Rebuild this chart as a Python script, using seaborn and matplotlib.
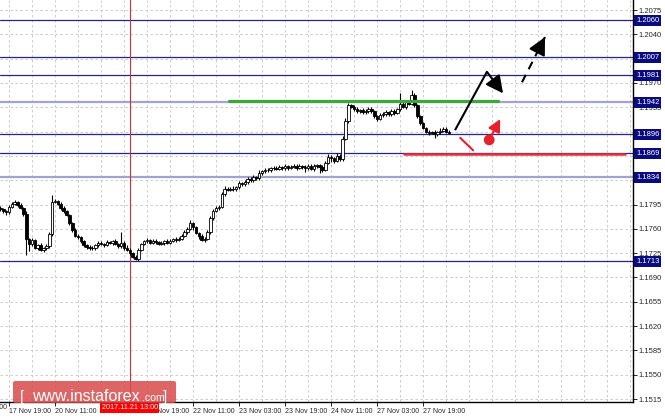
import matplotlib
matplotlib.use("Agg")
import matplotlib.pyplot as plt
import seaborn as sns
from matplotlib.patches import FancyBboxPatch

# prices are stored as pips above this base
BASE = 1.1700
first_open_pips = 90
close_pips = [88, 85, 84, 92, 96, 98, 95, 90, 82, 45,
              38, 44, 33, 36, 30, 32, 35, 52, 99, 100,
              96, 90, 85, 80, 68, 58, 50, 48, 42, 36,
              34, 32, 33, 36, 40, 38, 37, 41, 40, 42,
              38, 35, 40, 33, 30, 25, 20, 17, 30, 38,
              42, 44, 40, 43, 41, 38, 40, 42, 40, 43,
              45, 44, 46, 50, 55, 60, 68, 62, 54, 50,
              44, 46, 55, 75, 86, 90, 92, 110, 118, 116,
              118, 117, 120, 126, 124, 128, 132, 130, 134, 133,
              140, 143, 145, 144, 147, 148, 146, 149, 147, 150,
              148, 149, 151, 148, 150, 149, 147, 151, 146, 150,
              152, 149, 145, 155, 163, 162, 158, 165, 160, 190,
              215, 238, 236, 232, 229, 231, 228, 230, 233, 229,
              222, 218, 224, 226, 228, 225, 230, 227, 232, 240,
              236, 242, 240, 252, 238, 222, 212, 205, 200, 198,
              199, 197, 199, 201, 204, 200, 198]
wick_up = [3, 2, 2, 3, 2, 3, 2, 2, 2, 3, 2, 3, 2, 2, 3, 2, 3, 4, 9, 3,
           2, 2, 3, 2, 2, 2, 3, 2, 2, 2, 2, 3, 2, 2, 3, 2, 2, 3, 2, 2,
           3, 2, 16, 2, 3, 2, 2, 3, 3, 2, 2, 3, 2, 2, 3, 2, 2, 2, 3, 2,
           2, 3, 2, 2, 3, 3, 4, 2, 2, 2, 3, 2, 3, 3, 2, 3, 2, 3, 3, 2,
           2, 3, 2, 3, 2, 3, 2, 2, 3, 2, 4, 2, 3, 2, 2, 3, 2, 3, 2, 3,
           2, 3, 2, 2, 3, 2, 3, 2, 2, 3, 2, 2, 3, 2, 4, 3, 2, 4, 2, 3,
           4, 3, 2, 2, 3, 2, 3, 2, 3, 3, 2, 2, 3, 2, 3, 2, 3, 2, 2, 15,
           3, 2, 3, 8, 3, 2, 2, 2, 2, 2, 2, 3, 2, 4, 2, 2, 2]
wick_dn = [3, 2, 4, 2, 2, 2, 3, 2, 3, 23, 10, 3, 2, 3, 2, 3, 2, 2, 3, 2,
           2, 3, 2, 2, 3, 2, 2, 3, 2, 2, 3, 2, 2, 3, 2, 2, 3, 2, 2, 3,
           2, 3, 2, 3, 2, 3, 2, 2, 3, 2, 2, 3, 2, 2, 3, 2, 2, 3, 2, 2,
           2, 3, 2, 2, 2, 3, 2, 3, 2, 4, 2, 3, 2, 3, 2, 2, 3, 2, 3, 2,
           2, 3, 2, 3, 2, 2, 3, 2, 2, 3, 2, 2, 3, 2, 2, 3, 2, 2, 3, 2,
           3, 2, 2, 3, 2, 3, 5, 2, 2, 3, 2, 8, 3, 2, 2, 6, 3, 2, 3, 2,
           2, 3, 2, 3, 2, 2, 3, 2, 3, 2, 2, 3, 2, 3, 3, 2, 2, 3, 2, 3,
           2, 3, 2, 2, 3, 2, 3, 2, 2, 3, 2, 6, 3, 2, 2, 2, 2]

price_ticks = [1.1515, 1.1550, 1.1585, 1.1620, 1.1655, 1.1690, 1.1725, 1.1760,
               1.1795, 1.1830, 1.1865, 1.1900, 1.1935, 1.1970, 1.2005, 1.2040, 1.2075]
level_lines = [1.2060, 1.2007, 1.1981, 1.1896, 1.1869, 1.1713]
faint_lines = [1.1942, 1.1834]
level_tags = [1.2060, 1.2007, 1.1981, 1.1942, 1.1896, 1.1869, 1.1834, 1.1713]

time_ticks = [3, 19, 35, 51, 67, 83, 99, 115, 131, 147]
time_labels = ["17 Nov 19:00", "20 Nov 11:00", "21 Nov 03:00", "21 Nov 19:00",
               "22 Nov 11:00", "23 Nov 03:00", "23 Nov 19:00", "24 Nov 11:00",
               "27 Nov 03:00", "27 Nov 19:00"]
cut_label_bar = -13
cut_label = "17 Nov 03:00"
cursor_bar = 45
cursor_label = "2017.11.21 13:00"

# drawn analysis: (bar, price) pairs
resist_bars, resist_price = [79.5, 173.1], 1.1944
support_bars, support_price = [140.4, 217.3], 1.1867
main_path_bars = [158.1, 169.2]
main_path_prices = [1.1902, 1.1986]
pullback_bars = [169.2, 174.8]
pullback_prices = [1.1986, 1.1955]
breakout_bars = [181.4, 189.4]
breakout_prices = [1.1971, 1.2036]
alt_dip_bars = [159.9, 164.4]
alt_dip_prices = [1.1891, 1.1873]
alt_up_bars = [170.0, 173.8]
alt_up_prices = [1.1888, 1.1918]

sns.set_style("white")
plt.rcParams["font.family"] = ["Liberation Sans", "DejaVu Sans"]

fig = plt.figure(figsize=(6.65, 4.19), dpi=100)
ax = fig.add_axes([0, 17 / 419, 633 / 665, 402 / 419])

NAVY = "#24248f"
grid_kw = dict(color="#c4c4c4", lw=0.6, ls=(0, (3, 3)), zorder=0)
for p in price_ticks:
    ax.axhline(p, **grid_kw)
for b in range(3, 221, 8):
    ax.axvline(b, **grid_kw)

for p in level_lines:
    ax.axhline(p, color=NAVY, lw=0.9, zorder=1)
for p in faint_lines:
    ax.axhline(p, color="#a3a3d3", lw=1.6, zorder=1)

ax.axvline(cursor_bar, color="#d03030", lw=0.8, zorder=1)

# candles
opens = [first_open_pips] + close_pips[:-1]
for i, (o, c) in enumerate(zip(opens, close_pips)):
    hi = BASE + (max(o, c) + wick_up[i]) / 1e4
    lo = BASE + (min(o, c) - wick_dn[i]) / 1e4
    ax.vlines(i, lo, hi, color="black", lw=0.8, zorder=3)
    ax.bar(i, abs(c - o) / 1e4, bottom=BASE + min(o, c) / 1e4, width=0.9,
           color="white" if c > o else "black", edgecolor="black",
           linewidth=0.6, zorder=4)

sns.lineplot(x=resist_bars, y=[resist_price] * 2, color="#3ca83a", lw=2.3, ax=ax, zorder=5)
sns.lineplot(x=support_bars, y=[support_price] * 2, color="#e8303a", lw=1.8, ax=ax, zorder=5)

arrow_kw = dict(arrowstyle="-|>,head_length=0.75,head_width=0.38", lw=1.5,
                color="black", shrinkA=0, shrinkB=0, mutation_scale=14)
ax.plot(main_path_bars, main_path_prices, color="black", lw=1.5, zorder=6,
        solid_capstyle="butt")
ax.annotate("", xy=(pullback_bars[1], pullback_prices[1]),
            xytext=(pullback_bars[0], pullback_prices[0]), arrowprops=arrow_kw, zorder=6)
ax.plot(breakout_bars, breakout_prices, color="black", lw=1.5, ls=(0, (4, 3)), zorder=6)
ax.annotate("", xy=(breakout_bars[1], breakout_prices[1]),
            xytext=(breakout_bars[1] - 1.5, breakout_prices[1] - 0.0012),
            arrowprops=arrow_kw, zorder=6)

red_kw = dict(arrow_kw, color="#e8202a", mutation_scale=10)
ax.plot(alt_dip_bars, alt_dip_prices, color="#e8202a", lw=1.5, zorder=6)
ax.annotate("", xy=(alt_up_bars[1], alt_up_prices[1]),
            xytext=(alt_up_bars[0], alt_up_prices[0]), arrowprops=red_kw, zorder=6)
sns.scatterplot(x=alt_up_bars[:1], y=alt_up_prices[:1], color="#e8202a", s=60,
                edgecolor="none", ax=ax, zorder=7)

ax.set_xlim(-0.14, 220.0)
ax.set_ylim(1.15107, 1.20894)

for side in ["top", "left"]:
    ax.spines[side].set_visible(False)
for side in ["right", "bottom"]:
    ax.spines[side].set_color("black")
    ax.spines[side].set_linewidth(1.0)

ax.yaxis.tick_right()
ax.set_yticks(price_ticks)
ax.set_yticklabels([f"{p:.4f}" for p in price_ticks])
ax.tick_params(axis="y", right=True, length=3, width=0.7, pad=1, labelsize=5.5)
ax.set_xticks(time_ticks)
ax.set_xticklabels(time_labels, ha="left")
ax.tick_params(axis="x", bottom=True, length=3, width=0.7, pad=1, labelsize=5)
ax.set_xlabel("")
ax.set_ylabel("")
ax.text(cut_label_bar + 0.6, -0.006, cut_label, transform=ax.get_xaxis_transform(),
        ha="left", va="top", fontsize=5, clip_on=False)

ytr = ax.get_yaxis_transform()
for p in level_tags:
    ax.text(1.0 + 3 / 633, p, f"{p:.4f}", transform=ytr, ha="left", va="center",
            fontsize=5.5, color="white", zorder=10, clip_on=False,
            bbox=dict(boxstyle="square,pad=0.25", fc="#0b0b80", ec="none"))

ax.text(cursor_bar, -0.006, cursor_label, transform=ax.get_xaxis_transform(),
        ha="center", va="top", fontsize=5.2, color="white", zorder=10, clip_on=False,
        bbox=dict(boxstyle="square,pad=0.2", fc="#ff0000", ec="none"))

# watermark
wm = FancyBboxPatch((13 / 665, 16 / 419), 163 / 665, 22 / 419,
                    boxstyle="round,pad=0,rounding_size=0.004",
                    transform=fig.transFigure, fc="#d94a4a", ec="none",
                    alpha=0.85, zorder=20)
fig.add_artist(wm)
base_y = 18 / 419
fig.text(20 / 665, base_y, "[", color="white", fontsize=11, va="baseline", zorder=21)
fig.text(32 / 665, base_y, "www.instaforex", color="white", fontsize=11.5,
         va="baseline", zorder=21)
fig.text(142 / 665, base_y, ".com", color="white", fontsize=7.6, va="baseline", zorder=21)
fig.text(163 / 665, base_y, "]", color="white", fontsize=11, va="baseline", zorder=21)

fig.savefig("out.png", dpi=100)
